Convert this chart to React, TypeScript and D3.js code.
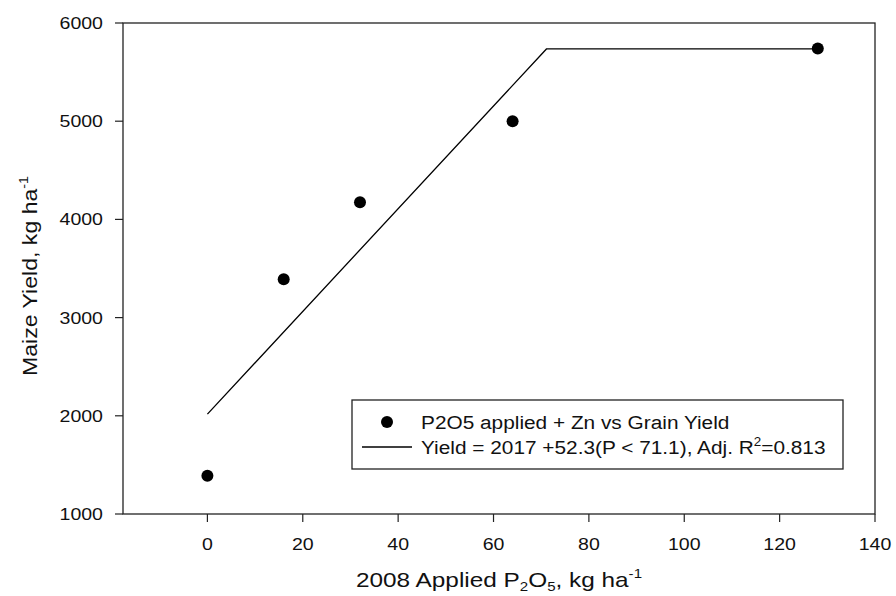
import React from "react";
import * as d3 from "d3";

// observed data: P2O5 applied (kg/ha) vs maize grain yield (kg/ha)
const pRates = [0, 16, 32, 64, 128];
const yields = [1390, 3390, 4175, 5000, 5740];

// linear-plateau fit: Yield = 2017 + 52.3 P, P < 71.1
const intercept = 2017;
const slope = 52.3;
const joint = 71.1;
const fitEnd = 128;

const xTicks = [0, 20, 40, 60, 80, 100, 120, 140];
const yTicks = [1000, 2000, 3000, 4000, 5000, 6000];

const W = 896;
const H = 596;
const margin = { left: 123, right: 21, top: 23, bottom: 82 };
const font = "'Liberation Sans', Arial, sans-serif";

// the source picture is a bit wider than tall, so text gets a horizontal stretch
const T = ({ x, y, sx = 1.15, rot = 0, anchor = "start", size, children }: any) => (
  <text
    transform={`translate(${x},${y}) rotate(${rot}) scale(${sx},1)`}
    textAnchor={anchor}
    fontSize={size}
    fill="#111"
  >
    {children}
  </text>
);

export default function App() {
  const x = d3
    .scaleLinear()
    .domain([-17.7, 140])
    .range([margin.left, W - margin.right]);
  const y = d3
    .scaleLinear()
    .domain([1000, 6000])
    .range([H - margin.bottom, margin.top]);

  const plateau = intercept + slope * joint;
  const fitPts: [number, number][] = [
    [0, intercept],
    [joint, plateau],
    [fitEnd, plateau],
  ];
  const line = d3
    .line<[number, number]>()
    .x(d => x(d[0]))
    .y(d => y(d[1]));

  const x0 = margin.left;
  const x1 = W - margin.right;
  const y0 = H - margin.bottom;
  const y1 = margin.top;

  return (
    <svg
      width={W}
      height={H}
      style={{ position: "absolute", left: 0, top: 0, fontFamily: font }}
    >
      <rect width={W} height={H} fill="#fff" />
      {/* frame */}
      <rect
        x={x0}
        y={y1}
        width={x1 - x0}
        height={y0 - y1}
        fill="none"
        stroke="#222"
        strokeWidth={1.3}
      />
      {/* x ticks */}
      {xTicks.map(t => (
        <g key={t}>
          <line x1={x(t)} x2={x(t)} y1={y0} y2={y0 + 8} stroke="#222" strokeWidth={1.2} />
          <T x={x(t)} y={550} anchor="middle" size={17}>
            {t}
          </T>
        </g>
      ))}
      {/* y ticks */}
      {yTicks.map(t => (
        <g key={t}>
          <line x1={x0 - 8} x2={x0} y1={y(t)} y2={y(t)} stroke="#222" strokeWidth={1.2} />
          <T x={103} y={y(t) + 6} anchor="end" size={17}>
            {t}
          </T>
        </g>
      ))}
      {/* fit */}
      <path d={line(fitPts) || ""} fill="none" stroke="#000" strokeWidth={1.3} />
      {/* points */}
      {pRates.map((p, i) => (
        <circle key={p} cx={x(p)} cy={y(yields[i])} r={6} fill="#000" />
      ))}
      {/* axis titles */}
      <T x={(x0 + x1) / 2} y={587} anchor="middle" size={21} sx={1.16}>
        2008 Applied P
        <tspan fontSize={13} dy={4}>2</tspan>
        <tspan dy={-4}>O</tspan>
        <tspan fontSize={13} dy={4}>5</tspan>
        <tspan dy={-4}>, kg ha</tspan>
        <tspan fontSize={13} dy={-9}>-1</tspan>
      </T>
      <T x={37} y={276} rot={-90} anchor="middle" size={21} sx={1.1}>
        Maize Yield, kg ha
        <tspan fontSize={13} dy={-9}>-1</tspan>
      </T>
      {/* legend */}
      <g>
        <rect
          x={352}
          y={400}
          width={491}
          height={69}
          fill="#fff"
          stroke="#222"
          strokeWidth={1.3}
        />
        <circle cx={387} cy={422} r={6} fill="#000" />
        <T x={421} y={429} size={18.6} sx={1.12}>
          P2O5 applied + Zn vs Grain Yield
        </T>
        <line x1={362} x2={412} y1={447} y2={447} stroke="#000" strokeWidth={1.3} />
        <T x={421} y={454} size={18.6} sx={1.12}>
          Yield = 2017 +52.3(P &lt; 71.1), Adj. R
          <tspan fontSize={12} dy={-8}>2</tspan>
          <tspan dy={8}>=0.813</tspan>
        </T>
      </g>
    </svg>
  );
}
